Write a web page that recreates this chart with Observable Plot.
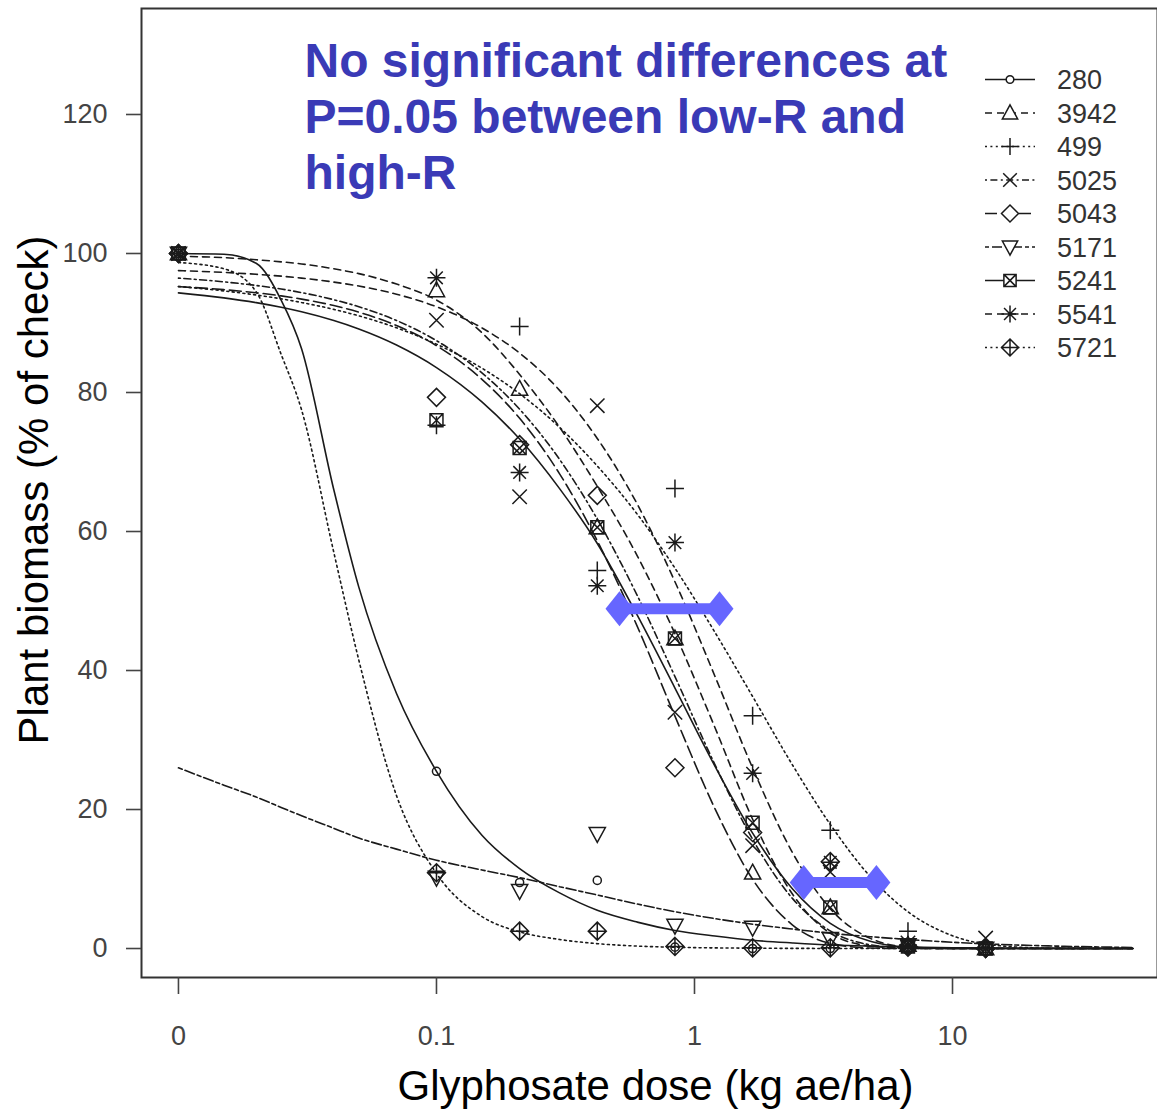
<!DOCTYPE html>
<html><head><meta charset="utf-8">
<script src="https://cdn.jsdelivr.net/npm/d3@7"></script>
<script src="https://cdn.jsdelivr.net/npm/@observablehq/plot@0.6"></script>
<style>
body{margin:0;background:#fff;}
#chart svg{display:block;}
</style></head><body><div id="chart"></div>
<script>
// ---------- data ----------
const accessions = ["280","3942","499","5025","5043","5171","5241","5541","5721"];
const lineTypes  = ["solid","dashed","dotted","dotdash","longdash","twodash","solid","dashed","dotted"];
const symbolNames = ["smallcircle","triangle","plus","times","diamond","triangledown","squaretimes","asterisk","diamondplus"];

// observed doses (kg ae/ha); the untreated check (0) sits at the "0" tick
const doses = [0, 0.1, 0.21, 0.42, 0.84, 1.68, 3.36, 6.72, 13.44];
const obs280  = [100, 25.5, 9.5, 9.8, 0.2, 0, 0, 0, 0];
const obs3942 = [100, 94.7, 80.5, 60.6, 44.6, 10.9, 5.9, 0.5, 0];
const obs499  = [100, 75.3, 89.5, 54.4, 66.2, 33.5, 17.0, 2.5, 0];
const obs5025 = [100, 90.4, 65.0, 78.1, 34.0, 14.8, 11.0, 0.8, 1.5];
const obs5043 = [100, 79.3, 72.5, 65.2, 26.0, 16.7, 12.5, 0.3, 0];
const obs5171 = [100, 10.2, 8.3, 16.5, 3.3, 3.0, 1.4, 0.5, 0];
const obs5241 = [100, 76.0, 72.0, 60.6, 44.6, 18.1, 5.9, 0.3, 0];
const obs5541 = [100, 96.5, 68.5, 52.2, 58.4, 25.2, 12.4, 0.5, 0];
const obs5721 = [100, 10.9, 2.5, 2.5, 0.3, 0.1, 0.1, 0.2, 0];

// fitted curves
const curveDoses = [0.01,0.015,0.02,0.025,0.03,0.04,0.05,0.07,0.1,0.15,0.21,0.3,0.42,0.6,0.84,1.2,1.68,2.4,3.36,4.8,6.72,10,15,25,50];
const fit280  = [100,99.9,98.6,93.3,86.3,66,52,36.7,25.5,16.3,11.5,8,5.5,3.8,2.6,1.8,1.2,0.8,0.5,0.35,0.2,0.1,0.05,0.02,0];
const fit3942 = [99.6,99.4,99.1,98.8,98.5,97.8,97.1,95.6,93.3,88.6,82.6,75,66.5,56.5,45.3,31.8,18.6,7.8,2.2,0.35,0.03,0,0,0,0];
const fit499  = [95.26,94.62,94.03,93.48,92.95,91.96,91.03,89.31,86.96,83.5,79.83,74.99,69.42,62.49,54.73,45.5,36.26,26.38,17.85,10.34,5.29,1.84,0.42,0.03,0];
const fit5025 = [96.45,95.92,95.4,94.89,94.37,93.35,92.34,90.36,87.46,82.83,77.6,70.37,61.77,50.79,39.13,26.46,15.71,7.18,2.53,0.53,0.07,0,0,0,0];
const fit5043 = [95.23,94.8,94.35,93.9,93.44,92.51,91.56,89.64,86.74,81.9,76.28,68.3,58.67,46.35,33.43,20.13,9.96,3.38,0.75,0.07,0,0,0,0,0];
const fit5171 = [26,23.5,21.8,20.3,19.1,17.3,15.9,14.3,12.7,11.3,10.2,8.9,7.7,6.4,5.3,4.3,3.5,2.8,2.2,1.7,1.3,0.9,0.6,0.35,0.15];
const fit5241 = [94.34,93.62,92.93,92.26,91.61,90.35,89.14,86.83,83.59,78.65,73.3,66.17,58.28,47.96,37.48,26.25,16.6,8.56,3.63,1.05,0.21,0.02,0,0,0];
const fit5541 = [97.54,97.28,97.01,96.74,96.46,95.89,95.32,94.14,92.34,89.3,85.67,80.31,73.39,63.94,52.77,39.18,25.97,13.77,5.72,1.46,0.22,0.01,0,0,0];
const fit5721 = [98.7,97.8,94.5,85.5,77.5,57,41.5,22,10.8,4.6,2.4,1.3,0.7,0.35,0.18,0.09,0.05,0.02,0.01,0,0,0,0,0,0];

const observed = [obs280, obs3942, obs499, obs5025, obs5043, obs5171, obs5241, obs5541, obs5721];
const fitted   = [fit280, fit3942, fit499, fit5025, fit5043, fit5171, fit5241, fit5541, fit5721];

// axis ticks
const xTickValues = [0.01, 0.1, 1, 10];
const xTickLabels = ["0", "0.1", "1", "10"];
const yTickValues = [0, 20, 40, 60, 80, 100, 120];

// blue annotation bars (dose range, biomass level)
const annoFrom = [0.512, 2.65];
const annoTo   = [1.25, 5.07];
const annoLevel = [48.9, 9.5];
const annotation = "No significant differences at\nP=0.05 between low-R and\nhigh-R";

// ---------- styles ----------
const dashes = {solid: null, dashed: "7,5", dotted: "2,3.4", dotdash: "2,3.4,7,3.4", longdash: "12,5", twodash: "4,3,10,3"};
const symDraw = {
  smallcircle: (c, r) => { const a = r * 0.45; c.moveTo(a, 0); c.arc(0, 0, a, 0, 2 * Math.PI); },
  triangle: (c, r) => { c.moveTo(0, -0.95 * r); c.lineTo(0.9 * r, 0.7 * r); c.lineTo(-0.9 * r, 0.7 * r); c.closePath(); },
  plus: (c, r) => { c.moveTo(-r, 0); c.lineTo(r, 0); c.moveTo(0, -r); c.lineTo(0, r); },
  times: (c, r) => { const a = 0.8 * r; c.moveTo(-a, -a); c.lineTo(a, a); c.moveTo(-a, a); c.lineTo(a, -a); },
  diamond: (c, r) => { c.moveTo(0, -r); c.lineTo(r, 0); c.lineTo(0, r); c.lineTo(-r, 0); c.closePath(); },
  triangledown: (c, r) => { c.moveTo(0, 0.95 * r); c.lineTo(0.9 * r, -0.7 * r); c.lineTo(-0.9 * r, -0.7 * r); c.closePath(); },
  squaretimes: (c, r) => { const a = 0.72 * r; c.moveTo(-a, -a); c.lineTo(a, -a); c.lineTo(a, a); c.lineTo(-a, a); c.closePath(); c.moveTo(-a, -a); c.lineTo(a, a); c.moveTo(-a, a); c.lineTo(a, -a); },
  asterisk: (c, r) => { const a = 0.7 * r; c.moveTo(-r, 0); c.lineTo(r, 0); c.moveTo(0, -r); c.lineTo(0, r); c.moveTo(-a, -a); c.lineTo(a, a); c.moveTo(-a, a); c.lineTo(a, -a); },
  diamondplus: (c, r) => { c.moveTo(0, -r); c.lineTo(r, 0); c.lineTo(0, r); c.lineTo(-r, 0); c.closePath(); c.moveTo(-r, 0); c.lineTo(r, 0); c.moveTo(0, -r); c.lineTo(0, r); },
  blueDiamond: (c, r) => { c.moveTo(0, -1.75 * r); c.lineTo(1.4 * r, 0); c.lineTo(0, 1.75 * r); c.lineTo(-1.4 * r, 0); c.closePath(); }
};
const makeSym = f => ({draw(ctx, size) { f(ctx, Math.sqrt(size / Math.PI)); }});
const symbols = Object.fromEntries(Object.entries(symDraw).map(([k, f]) => [k, makeSym(f)]));

const ink = "#1a1a1a";
const blue = "#6666ff";
const font = "'Liberation Sans', Arial, Helvetica, sans-serif";

// ---------- tables ----------
const curveRows = accessions.map((a, i) => curveDoses.map((d, j) => ({acc: a, dose: d, value: fitted[i][j]})));
const pointRows = accessions.map((a, i) => doses.map((d, j) => ({acc: a, dose: d === 0 ? 0.01 : d, value: observed[i][j]})));

const marks = [];
accessions.forEach((a, i) => {
  marks.push(Plot.line(curveRows[i], {
    x: "dose", y: "value", curve: "monotone-x", stroke: ink, strokeWidth: 1.6,
    strokeDasharray: dashes[lineTypes[i]] || undefined
  }));
});
accessions.forEach((a, i) => {
  marks.push(Plot.dot(pointRows[i], {
    x: "dose", y: "value", symbol: symbols[symbolNames[i]], r: 9,
    stroke: ink, strokeWidth: 1.5, fill: "none"
  }));
});

marks.push(
  Plot.link(annoLevel, {x1: annoFrom, x2: annoTo, y1: annoLevel, y2: annoLevel, stroke: blue, strokeWidth: 11}),
  Plot.dot(annoLevel, {x: annoFrom, y: annoLevel, symbol: symbols.blueDiamond, r: 10, fill: blue, stroke: "none"}),
  Plot.dot(annoLevel, {x: annoTo, y: annoLevel, symbol: symbols.blueDiamond, r: 10, fill: blue, stroke: "none"}),
  Plot.frame({stroke: "#333", strokeWidth: 2}),
  Plot.axisX({ticks: xTickValues, tickFormat: d => xTickLabels[xTickValues.indexOf(d)], tickSize: 17, tickPadding: 31,
              fontSize: 27, color: "#444", strokeWidth: 1.6, label: null}),
  Plot.axisY({ticks: yTickValues, tickSize: 15, tickPadding: 19, fontSize: 27, color: "#444", strokeWidth: 1.6, label: null}),
  Plot.text(["Glyphosate dose (kg ae/ha)"], {frameAnchor: "bottom", textAnchor: "middle", lineAnchor: "bottom",
              dx: 6, dy: 122, fontSize: 42, fill: "#000"}),
  Plot.text(["Plant biomass (% of check)"], {frameAnchor: "left", textAnchor: "middle", lineAnchor: "middle",
              rotate: -90, dx: -107, dy: -3, fontSize: 42, fill: "#000"}),
  Plot.text([annotation], {frameAnchor: "top-left", textAnchor: "start", lineAnchor: "top", dx: 163, dy: 29,
              fontSize: 48, fontWeight: "bold", fill: "#3a3ab6", lineHeight: 1.165})
);

const svg = Plot.plot({
  width: 1157, height: 1113,
  marginLeft: 141, marginRight: 0, marginTop: 8, marginBottom: 136,
  style: {fontFamily: font, background: "#fff", overflow: "visible"},
  x: {type: "log", domain: [0.00719, 62.3], axis: null},
  y: {domain: [-4.17, 135.25], axis: null},
  marks
});

// ---------- legend (top-right, inside the panel) ----------
const lg = d3.select(svg).append("g").attr("font-family", font);
accessions.forEach((a, i) => {
  const yy = 79.5 + i * 33.5;
  const row = lg.append("g").attr("transform", `translate(0,${yy})`);
  const dash = dashes[lineTypes[i]];
  row.append("line").attr("x1", 985).attr("x2", 1035).attr("y1", 0).attr("y2", 0)
    .attr("stroke", ink).attr("stroke-width", 1.6).attr("stroke-dasharray", dash || null);
  row.append("path").attr("transform", "translate(1010,0)")
    .attr("d", d3.symbol().type(symbols[symbolNames[i]]).size(Math.PI * 8.5 * 8.5)())
    .attr("fill", "#fff").attr("stroke", ink).attr("stroke-width", 1.5);
  row.append("text").attr("x", 1057).attr("y", 0).attr("dy", "0.36em")
    .attr("text-anchor", "start").attr("font-size", 27).attr("fill", "#333").text(a);
});

document.getElementById("chart").appendChild(svg);
</script>
</body></html>
